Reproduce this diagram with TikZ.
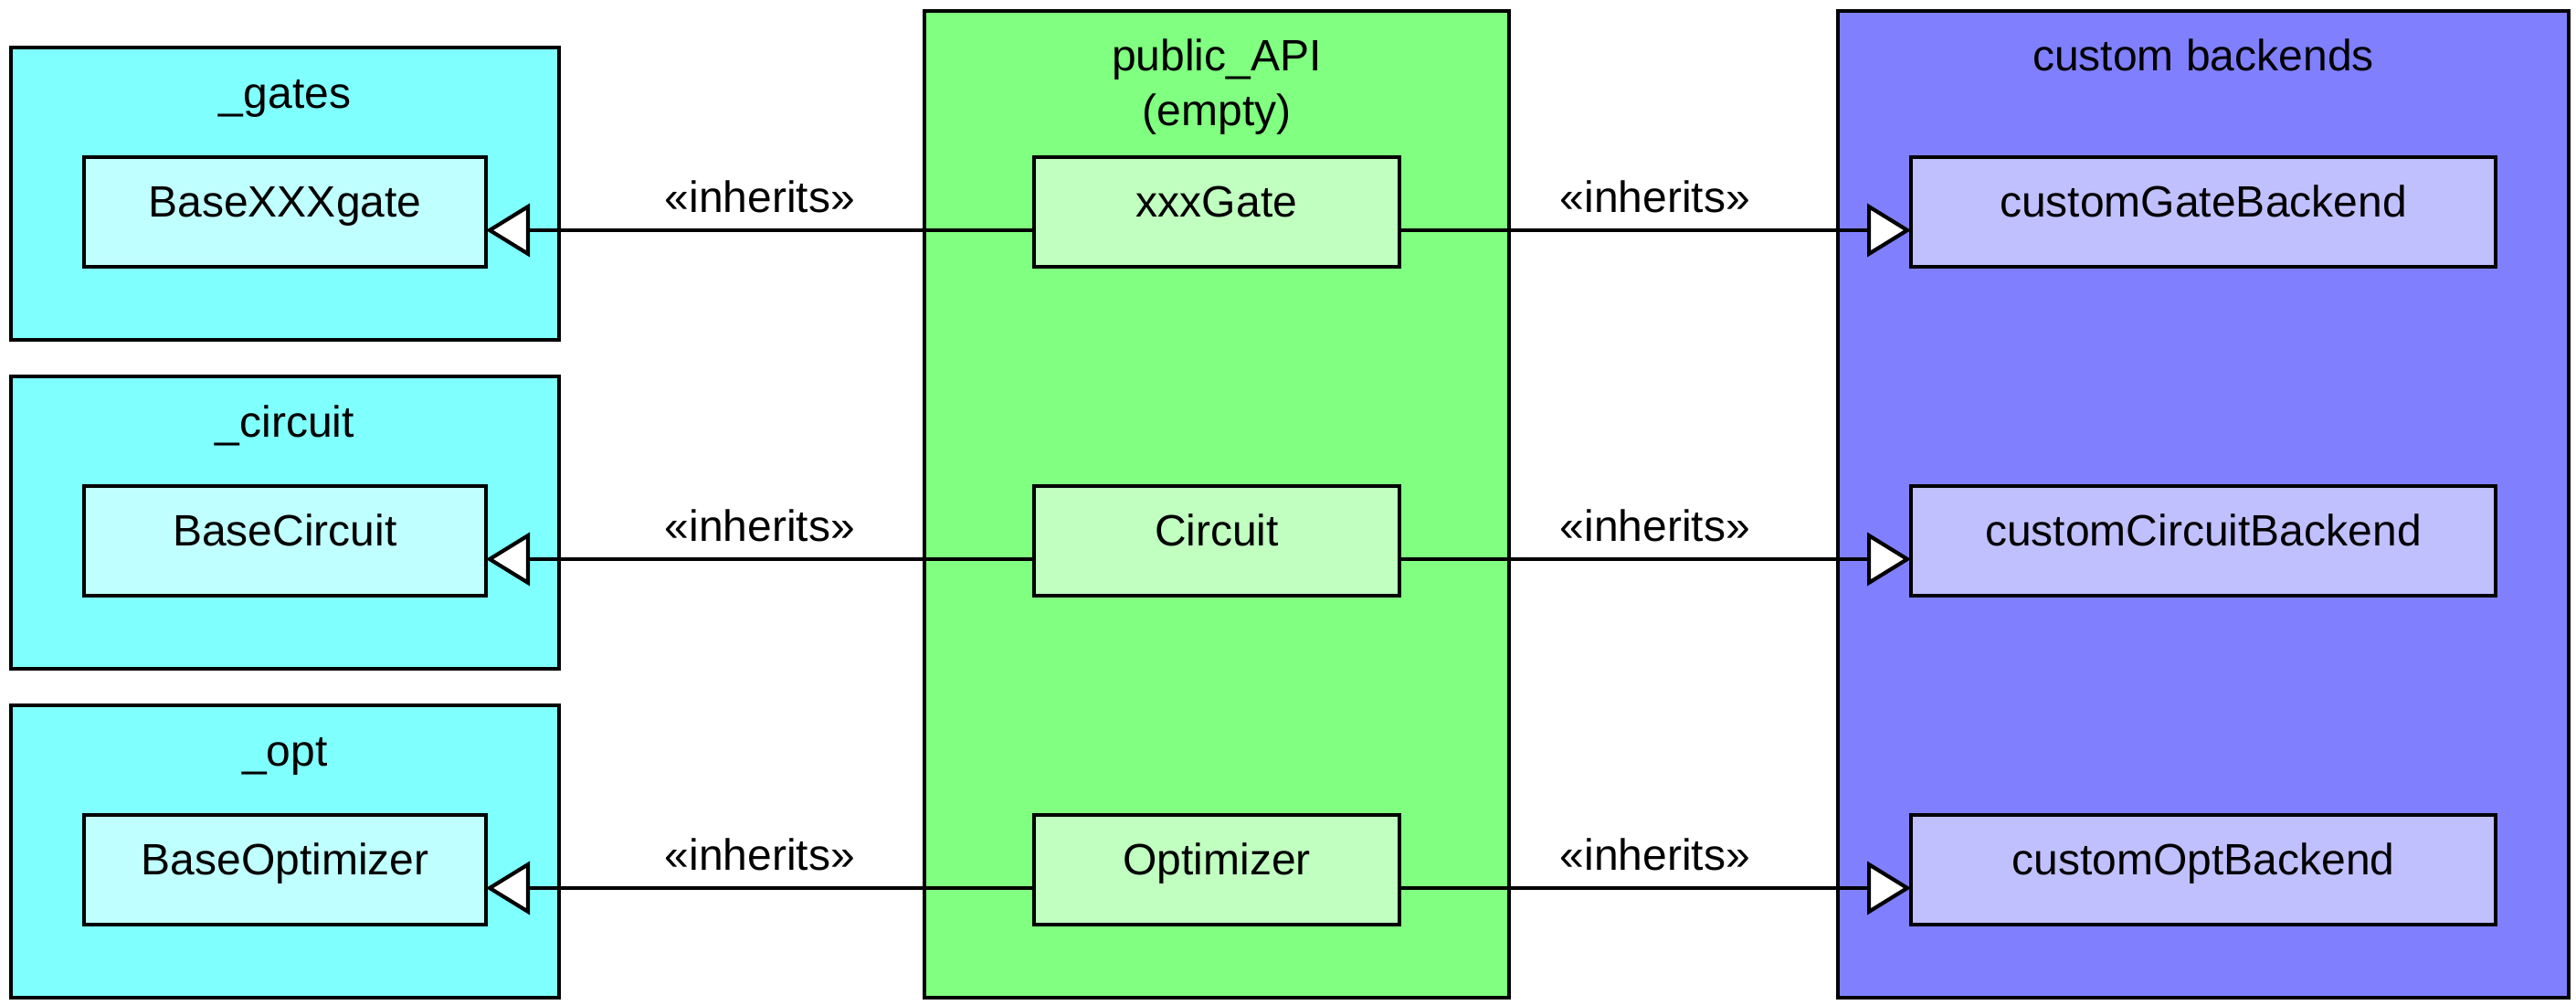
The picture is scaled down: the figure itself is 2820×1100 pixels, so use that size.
\documentclass[tikz,border=0pt]{standalone}
\usepackage{fontspec}
\setmainfont{Liberation Sans}
\usetikzlibrary{arrows.meta}
\definecolor{cyanout}{HTML}{80FFFF}
\definecolor{cyanin}{HTML}{C0FFFF}
\definecolor{greenout}{HTML}{80FF80}
\definecolor{greenin}{HTML}{C0FFC0}
\definecolor{blueout}{HTML}{8080FF}
\definecolor{bluein}{HTML}{C0C0FF}
\tikzset{
  box/.style={draw=black, line width=1.05pt, rectangle, inner sep=0pt, outer sep=0pt},
  inner/.style={box, minimum height=30pt, text height=9pt, text depth=6.2pt, font=\fontsize{12pt}{14.4pt}\selectfont},
  title/.style={anchor=base, inner sep=0pt, font=\fontsize{12pt}{14.4pt}\selectfont},
  inh/.style={line width=1.05pt, -{Triangle[length=12pt, width=14.5pt, fill=white]}},
  lbl/.style={anchor=base, inner sep=0pt, yshift=4.75pt, font=\fontsize{12pt}{14.4pt}\selectfont}
}
\begin{document}
\begin{tikzpicture}[x=0.25pt, y=-0.25pt]
\useasboundingbox (0,0) rectangle (2820,1100);
% left containers
\node[box, fill=cyanout, minimum width=150pt, minimum height=80pt] (gates) at (312,212) {};
\node[box, fill=cyanout, minimum width=150pt, minimum height=80pt] (circ) at (312,572) {};
\node[box, fill=cyanout, minimum width=150pt, minimum height=80pt] (opt) at (312,932) {};
% middle and right containers
\node[box, fill=greenout, minimum width=160pt, minimum height=270pt] (pub) at (1332,552) {};
\node[box, fill=blueout, minimum width=200pt, minimum height=270pt] (cust) at (2412,552) {};
% titles
\node[title] (tgates) at (312,118.5) {\_gates};
\node[title] (tcirc) at (312,478.5) {\_circuit};
\node[title] (topt) at (312,838.5) {\_opt};
\node[title] (tpub) at (1332,78) {public\_API};
\node[title] (tpub2) at (1332,138) {(empty)};
\node[title] (tcust) at (2412,78) {custom backends};
% inner boxes
\node[inner, fill=cyanin, minimum width=110pt] (bxg) at (312,232) {BaseXXXgate};
\node[inner, fill=cyanin, minimum width=110pt] (bc) at (312,592) {BaseCircuit};
\node[inner, fill=cyanin, minimum width=110pt] (bo) at (312,952) {BaseOptimizer};
\node[inner, fill=greenin, minimum width=100pt] (xg) at (1332,232) {xxxGate};
\node[inner, fill=greenin, minimum width=100pt] (ci) at (1332,592) {Circuit};
\node[inner, fill=greenin, minimum width=100pt] (op) at (1332,952) {Optimizer};
\node[inner, fill=bluein, minimum width=160pt] (cgb) at (2412,232) {customGateBackend};
\node[inner, fill=bluein, minimum width=160pt] (ccb) at (2412,592) {customCircuitBackend};
\node[inner, fill=bluein, minimum width=160pt] (cob) at (2412,952) {customOptBackend};
% connectors
\draw[inh] ([yshift=-5pt]xg.west) -- node[lbl] (l1) {«inherits»} ([yshift=-5pt]bxg.east);
\draw[inh] ([yshift=-5pt]ci.west) -- node[lbl] (l2) {«inherits»} ([yshift=-5pt]bc.east);
\draw[inh] ([yshift=-5pt]op.west) -- node[lbl] (l3) {«inherits»} ([yshift=-5pt]bo.east);
\draw[inh] ([yshift=-5pt]xg.east) -- node[lbl] (r1) {«inherits»} ([yshift=-5pt]cgb.west);
\draw[inh] ([yshift=-5pt]ci.east) -- node[lbl] (r2) {«inherits»} ([yshift=-5pt]ccb.west);
\draw[inh] ([yshift=-5pt]op.east) -- node[lbl] (r3) {«inherits»} ([yshift=-5pt]cob.west);
\end{tikzpicture}
\end{document}
